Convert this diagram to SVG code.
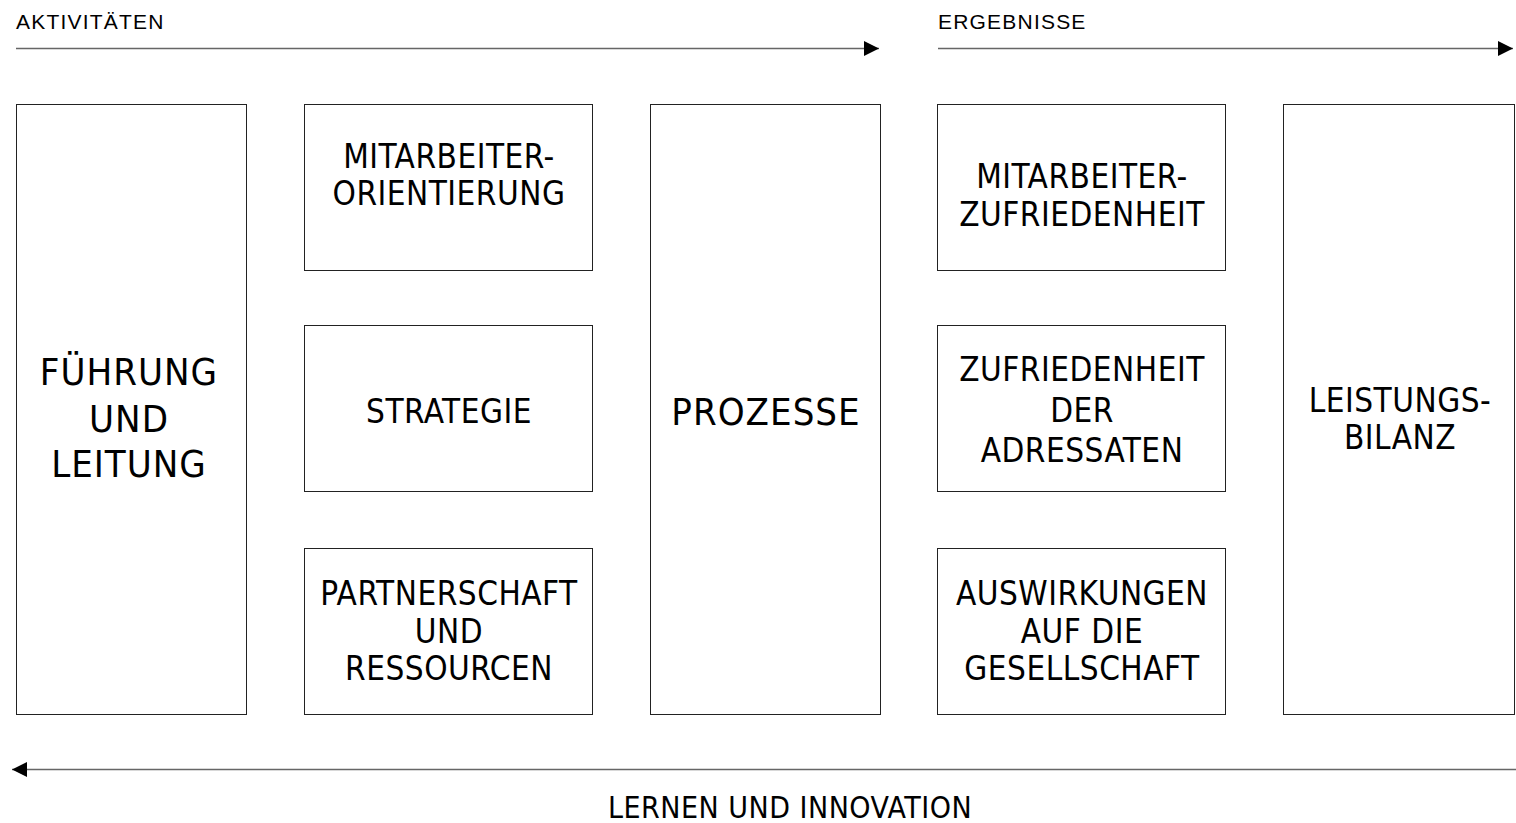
<svg xmlns="http://www.w3.org/2000/svg" width="1516" height="823" viewBox="0 0 1516 823">
<style>
.box{fill:#fff;stroke:#222;stroke-width:1}
.lbl{font-family:"DejaVu Sans Condensed","DejaVu Sans",sans-serif;fill:#000;text-anchor:middle}
.s{font-size:33px;letter-spacing:0.5px}
.b{font-size:38px;letter-spacing:1px}
.head{font-family:"Liberation Sans",Arial,sans-serif;font-size:21px;letter-spacing:1.2px;fill:#000}
.arr{stroke:#666;stroke-width:1.3;fill:none}
</style>
<defs>
<marker id="ah" markerUnits="userSpaceOnUse" markerWidth="16" markerHeight="16" refX="15" refY="7.5" orient="auto">
<path d="M0,0 L15,7.5 L0,15 Z" fill="#000"/>
</marker>
</defs>
<rect width="1516" height="823" fill="#fff"/>
<g id="connectors">
<path class="arr" d="M16,48.5 H879" marker-end="url(#ah)"/>
<path class="arr" d="M938,48.5 H1513" marker-end="url(#ah)"/>
<path class="arr" d="M1516,769.5 H12" marker-end="url(#ah)"/>
</g>
<g id="headers">
<text class="head" x="16" y="29">AKTIVITÄTEN</text>
<text class="head" x="938" y="29">ERGEBNISSE</text>
</g>
<g id="fuehrung">
<rect class="box" x="16.5" y="104.5" width="230" height="610"/>
<text class="lbl b" x="129" y="385">FÜHRUNG</text>
<text class="lbl b" x="129" y="432">UND</text>
<text class="lbl b" x="129" y="477">LEITUNG</text>
</g>
<g id="mitarbeiterorientierung">
<rect class="box" x="304.5" y="104.5" width="288" height="166"/>
<text class="lbl s" x="449" y="168">MITARBEITER-</text>
<text class="lbl s" x="449" y="205">ORIENTIERUNG</text>
</g>
<g id="strategie">
<rect class="box" x="304.5" y="325.5" width="288" height="166"/>
<text class="lbl s" x="449" y="423">STRATEGIE</text>
</g>
<g id="partnerschaft">
<rect class="box" x="304.5" y="548.5" width="288" height="166"/>
<text class="lbl s" x="449" y="605">PARTNERSCHAFT</text>
<text class="lbl s" x="449" y="643">UND</text>
<text class="lbl s" x="449" y="680">RESSOURCEN</text>
</g>
<g id="prozesse">
<rect class="box" x="650.5" y="104.5" width="230" height="610"/>
<text class="lbl b" x="766" y="425">PROZESSE</text>
</g>
<g id="mitarbeiterzufriedenheit">
<rect class="box" x="937.5" y="104.5" width="288" height="166"/>
<text class="lbl s" x="1082" y="188">MITARBEITER-</text>
<text class="lbl s" x="1082" y="226">ZUFRIEDENHEIT</text>
</g>
<g id="adressaten">
<rect class="box" x="937.5" y="325.5" width="288" height="166"/>
<text class="lbl s" x="1082" y="381">ZUFRIEDENHEIT</text>
<text class="lbl s" x="1082" y="422">DER</text>
<text class="lbl s" x="1082" y="462">ADRESSATEN</text>
</g>
<g id="gesellschaft">
<rect class="box" x="937.5" y="548.5" width="288" height="166"/>
<text class="lbl s" x="1082" y="605">AUSWIRKUNGEN</text>
<text class="lbl s" x="1082" y="643">AUF DIE</text>
<text class="lbl s" x="1082" y="680">GESELLSCHAFT</text>
</g>
<g id="leistungsbilanz">
<rect class="box" x="1283.5" y="104.5" width="231" height="610"/>
<text class="lbl s" x="1400" y="412">LEISTUNGS-</text>
<text class="lbl s" x="1400" y="449">BILANZ</text>
</g>
<g id="footer">
<text class="lbl" style="font-size:30px;letter-spacing:0.5px" x="790" y="818">LERNEN UND INNOVATION</text>
</g>
</svg>
